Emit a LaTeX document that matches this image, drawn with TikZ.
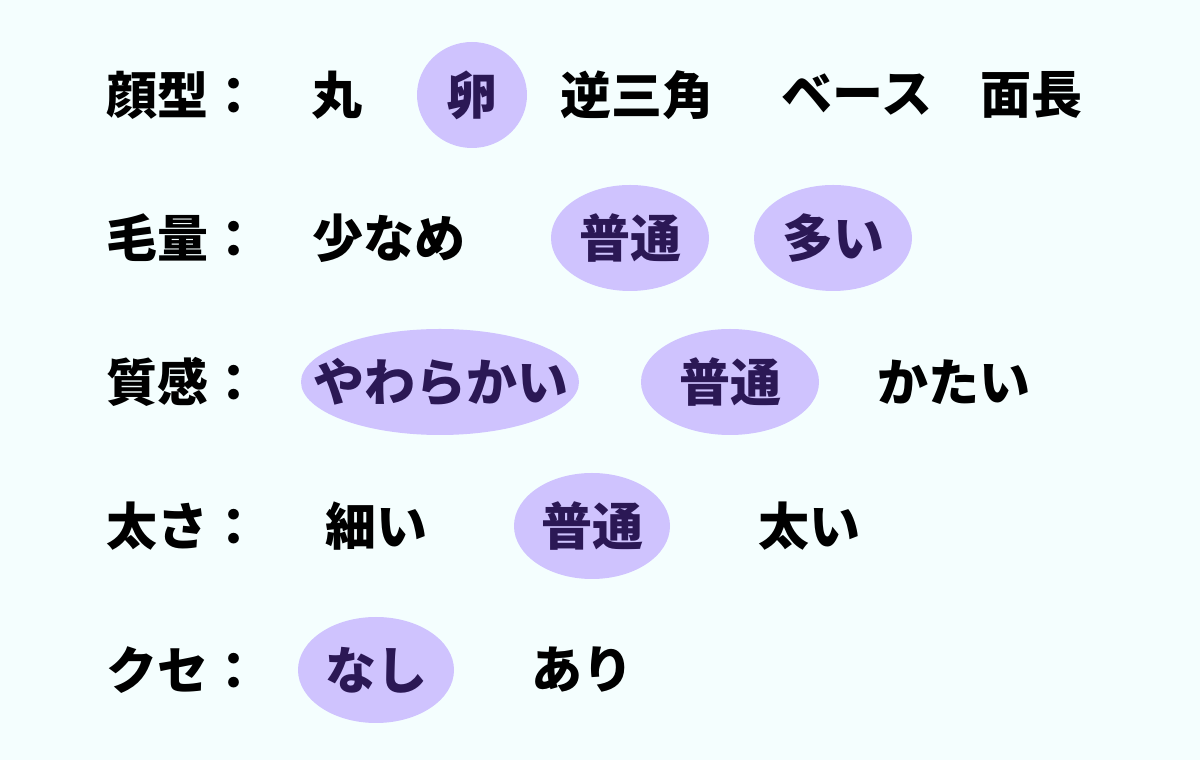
\documentclass[tikz,border=0pt]{standalone}
\usepackage{fontspec}
\setmainfont{Noto Sans CJK JP}[BoldFont={Noto Sans CJK JP Black}]
\definecolor{bgc}{HTML}{F4FEFE}
\definecolor{pillc}{HTML}{CFC3FE}
\definecolor{pilltxt}{HTML}{2B1855}
\tikzset{
  lbl/.style={anchor=west, inner sep=0pt, font=\fontsize{51}{60}\selectfont\bfseries, text=black},
  opt/.style={inner sep=0pt, font=\fontsize{51}{60}\selectfont\bfseries, text=black},
  sel/.style={opt, text=pilltxt},
  pill/.style={fill=pillc},
}
\begin{document}
\begin{tikzpicture}[x=1pt,y=1pt]
\fill[bgc] (0,0) rectangle (1200,760);
\useasboundingbox (0,0) rectangle (1200,760);
% highlight shapes
\fill[pill] (472,665) ellipse [x radius=55, y radius=53];
\fill[pill] (630,522) ellipse [x radius=79, y radius=53];
\fill[pill] (833,522) ellipse [x radius=79, y radius=53];
\fill[pill] (440,378) ellipse [x radius=139, y radius=53];
\fill[pill] (730,378) ellipse [x radius=89, y radius=53];
\fill[pill] (592,234) ellipse [x radius=78, y radius=53];
\fill[pill] (376,90) ellipse [x radius=78, y radius=53];
% row 1
\node[lbl] (l1) at (106,665) {顔型：};
\node[opt] (a1) at (337,665) {丸};
\node[sel] (a2) at (472,665) {卵};
\node[opt] (a3) at (637,665) {逆三角};
\node[opt] (a4) at (857,665) {ベース};
\node[opt] (a5) at (1031,665) {面長};
% row 2
\node[lbl] (l2) at (106,522) {毛量：};
\node[opt] (b1) at (389,522) {少なめ};
\node[sel] (b2) at (630,522) {普通};
\node[sel] (b3) at (833,522) {多い};
% row 3
\node[lbl] (l3) at (106,378) {質感：};
\node[sel] (c1) at (441,378) {やわらかい};
\node[sel] (c2) at (730,378) {普通};
\node[opt] (c3) at (954,378) {かたい};
% row 4
\node[lbl] (l4) at (106,234) {太さ：};
\node[opt] (d1) at (376,234) {細い};
\node[sel] (d2) at (592,234) {普通};
\node[opt] (d3) at (809,234) {太い};
% row 5
\node[lbl] (l5) at (106,90) {クセ：};
\node[sel] (e1) at (376,90) {なし};
\node[opt] (e2) at (582,90) {あり};
\end{tikzpicture}
\end{document}
